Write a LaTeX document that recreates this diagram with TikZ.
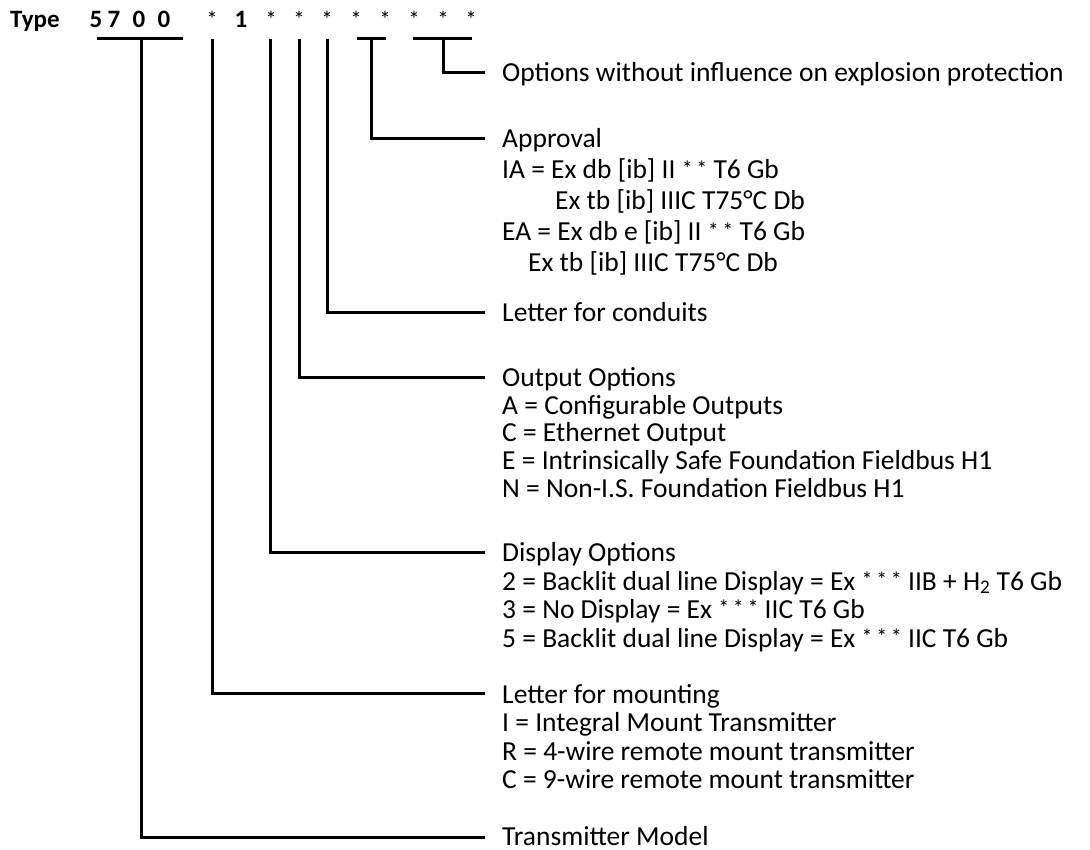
\documentclass[tikz,border=0pt]{standalone}
\usepackage{fontspec}
\setmainfont{Carlito}
\newcommand{\stars}[1]{\raisebox{2.5pt}{\fontsize{22}{22}\selectfont #1}}
\begin{document}
\begin{tikzpicture}[x=1pt,y=-1pt,
  conn/.style={line width=3pt, line cap=butt},
  lbl/.style={anchor=base west, inner sep=0pt, font=\fontsize{27.5}{32}\selectfont},
  hd/.style={anchor=base, inner sep=0pt, font=\bfseries\fontsize{25}{28}\selectfont},
  st/.style={anchor=base, inner sep=0pt, font=\fontsize{23}{28}\selectfont}]
\useasboundingbox (0,0) rectangle (1090,850);

% header row
\node[hd, anchor=base west] (type) at (10,28) {Type};
\node[hd] (d5) at (96,28) {5};
\node[hd] (d7) at (114,28) {7};
\node[hd] (d0a) at (139,28) {0};
\node[hd] (d0b) at (164,28) {0};
\node[st] (s1) at (212,28) {*};
\node[hd] (d1) at (241,28) {1};
\node[st] (s2) at (271,28) {*};
\node[st] (s3) at (299,28) {*};
\node[st] (s4) at (327,28) {*};
\node[st] (s5) at (356,28) {*};
\node[st] (s6) at (385,28) {*};
\node[st] (s7) at (414,28) {*};
\node[st] (s8) at (443,28) {*};
\node[st] (s9) at (471,28) {*};

% top coordinates
\coordinate (uL) at (97,39);   \coordinate (uR) at (183,39);
\coordinate (tModel) at (141,39);
\coordinate (tMount) at (212,39);
\coordinate (tDisp) at (270,39);
\coordinate (tOut) at (299,39);
\coordinate (tCond) at (327,39);
\coordinate (aL) at (357,39);  \coordinate (aR) at (386,39);
\coordinate (tAppr) at (371,39);
\coordinate (oL) at (413,39);  \coordinate (oR) at (472,39);
\coordinate (tOpt) at (443,39);

% end coordinates
\coordinate (eOpt) at (485,73);
\coordinate (eAppr) at (485,139);
\coordinate (eCond) at (485,313);
\coordinate (eOut) at (485,377);
\coordinate (eDisp) at (485,552);
\coordinate (eMount) at (485,693);
\coordinate (eModel) at (485,837);

% brackets and connectors
\draw[conn] (uL) -- (uR);
\draw[conn] (aL) -- (aR);
\draw[conn] (oL) -- (oR);
\draw[conn] (tModel) |- (eModel);
\draw[conn] (tMount) |- (eMount);
\draw[conn] (tDisp) |- (eDisp);
\draw[conn] (tOut) |- (eOut);
\draw[conn] (tCond) |- (eCond);
\draw[conn] (tAppr) |- (eAppr);
\draw[conn] (tOpt) |- (eOpt);

% labels
\node[lbl] (opt) at (502,82) {Options without influence on explosion protection};

\node[lbl] (appr) at (502,148) {Approval};
\node[lbl] (appr1) at (502,179) {IA = Ex db [ib] II \stars{*\,*} T6 Gb};
\node[lbl] (appr2) at (555,210) {Ex tb [ib] IIIC T75°C Db};
\node[lbl] (appr3) at (502,241) {EA = Ex db e [ib] II \stars{*\,*} T6 Gb};
\node[lbl] (appr4) at (528,272) {Ex tb [ib] IIIC T75°C Db};

\node[lbl] (cond) at (502,322) {Letter for conduits};

\node[lbl] (out) at (502,386) {Output Options};
\node[lbl] (out1) at (502,414) {A = Configurable Outputs};
\node[lbl] (out2) at (502,441) {C = Ethernet Output};
\node[lbl] (out3) at (502,469) {E = Intrinsically Safe Foundation Fieldbus H1};
\node[lbl] (out4) at (502,497) {N = Non-I.S. Foundation Fieldbus H1};

\node[lbl] (disp) at (502,561) {Display Options};
\node[lbl] (disp1) at (502,590) {2 = Backlit dual line Display = Ex \stars{*\,*\,*} IIB + H\textsubscript{2} T6 Gb};
\node[lbl] (disp2) at (502,618) {3 = No Display = Ex \stars{*\,*\,*} IIC T6 Gb};
\node[lbl] (disp3) at (502,647) {5 = Backlit dual line Display = Ex \stars{*\,*\,*} IIC T6 Gb};

\node[lbl] (mount) at (502,703) {Letter for mounting};
\node[lbl] (mount1) at (502,731) {I = Integral Mount Transmitter};
\node[lbl] (mount2) at (502,760) {R = 4-wire remote mount transmitter};
\node[lbl] (mount3) at (502,788) {C = 9-wire remote mount transmitter};

\node[lbl] (model) at (502,845) {Transmitter Model};
\end{tikzpicture}
\end{document}
